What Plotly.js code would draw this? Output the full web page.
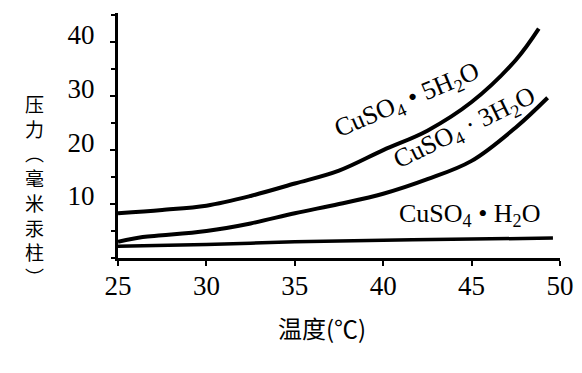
<!DOCTYPE html>
<html><head><meta charset="utf-8">
<script src="https://cdn.plot.ly/plotly-3.0.1.min.js"></script>
<style>html,body{margin:0;padding:0;background:#fff}#chart{width:582px;height:373px}</style>
</head><body><div id="chart"></div>
<script>
// 温度 (°C) and 压力 (毫米汞柱)
const temp5 = [25, 27.5, 30, 32.5, 35, 37.5, 40, 42.5, 45, 47.5, 48.8];
const press5 = [8.3, 8.9, 9.7, 11.5, 13.8, 16.2, 20.0, 23.6, 28.9, 36.7, 42.5];
const temp3 = [25, 26.4, 27.5, 30, 32.5, 35, 37.5, 40, 42.5, 45, 47.5, 49.3];
const press3 = [3.0, 3.9, 4.2, 5.0, 6.4, 8.3, 10.0, 11.9, 14.6, 18.0, 24.2, 29.7];
const temp1 = [25, 30, 35, 40, 45, 49.6];
const press1 = [2.2, 2.5, 3.0, 3.3, 3.5, 3.7];
const xTicks = [25, 30, 35, 40, 45, 50];
const yTicks = [10, 20, 30, 40];
const names = ['CuSO<sub>4</sub> • 5H<sub>2</sub>O', 'CuSO<sub>4</sub> · 3H<sub>2</sub>O', 'CuSO<sub>4</sub> • H<sub>2</sub>O'];
const xTitle = '温度(℃)';
const yTitleChars = ['压', '力', '︵', '毫', '米', '汞', '柱', '︶'];

const serif = 'Liberation Serif';
const cjk = 'Noto Sans CJK SC';
const L = 118, T = 13, W = 442, H = 245;

const lineStyle = {color: '#000', width: 4, shape: 'spline', smoothing: 1};
const traces = [
  {x: temp5, y: press5, mode: 'lines', line: lineStyle, name: 'CuSO4·5H2O', hoverinfo: 'skip'},
  {x: temp3, y: press3, mode: 'lines', line: lineStyle, name: 'CuSO4·3H2O', hoverinfo: 'skip'},
  {x: temp1, y: press1, mode: 'lines', line: Object.assign({}, lineStyle, {width: 3.5}), name: 'CuSO4·H2O', hoverinfo: 'skip'}
];

const annotations = [
  {x: 41.35, y: 29.1, xref: 'x', yref: 'y', text: names[0], textangle: -23, showarrow: false,
   xanchor: 'center', yanchor: 'middle', font: {family: serif, size: 26, color: '#000'}},
  {x: 44.6, y: 23.9, xref: 'x', yref: 'y', text: names[1], textangle: -26, showarrow: false,
   xanchor: 'center', yanchor: 'middle', font: {family: serif, size: 26, color: '#000'}},
  {x: 44.9, y: 7.9, xref: 'x', yref: 'y', text: names[2], textangle: 0, showarrow: false,
   xanchor: 'center', yanchor: 'middle', font: {family: serif, size: 26, color: '#000'}},
  {x: (322 - L) / W, y: (T + H - 327) / H, xref: 'paper', yref: 'paper', text: xTitle, showarrow: false,
   xanchor: 'center', yanchor: 'middle', font: {family: cjk, size: 24, color: '#000'}},
  {x: (34 - L) / W, y: (T + H - 190) / H, xref: 'paper', yref: 'paper', text: yTitleChars.join('<br>'),
   showarrow: false, xanchor: 'center', yanchor: 'middle', align: 'center',
   font: {family: cjk, size: 19, color: '#000'}}
];

const layout = {
  width: 582, height: 373,
  font: {family: serif, color: '#000'},
  margin: {l: L, r: 582 - L - W, t: T, b: 373 - T - H, pad: 0},
  paper_bgcolor: '#fff', plot_bgcolor: '#fff',
  showlegend: false,
  xaxis: {range: [25, 50], showgrid: false, zeroline: false, showline: true, linecolor: '#000', linewidth: 3,
    tickvals: xTicks, ticktext: xTicks.map(String), ticks: 'outside', ticklen: 5, tickwidth: 2, tickcolor: '#000',
    ticklabelstandoff: -3, tickfont: {family: serif, size: 27, color: '#000'}},
  yaxis: {range: [0, 45.4], showgrid: false, zeroline: false, showline: true, linecolor: '#000', linewidth: 3,
    tickvals: yTicks, ticktext: yTicks.map(String), ticks: 'outside', ticklen: 5, tickwidth: 2, tickcolor: '#000',
    minor: {dtick: 5, tick0: 0, ticks: 'outside', ticklen: 4, tickwidth: 2, tickcolor: '#000', showgrid: false},
    ticklabelstandoff: 10, ticklabelshift: -8, tickfont: {family: serif, size: 27, color: '#000'}},
  annotations: annotations
};
Plotly.newPlot('chart', traces, layout, {staticPlot: true, displayModeBar: false});
</script></body></html>
